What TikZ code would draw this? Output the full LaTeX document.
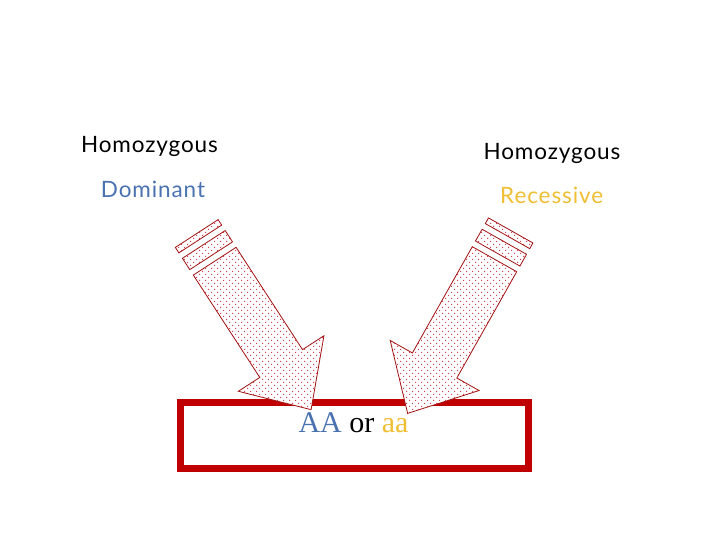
\documentclass[tikz,border=0pt]{standalone}
\usepackage{fontspec}
\setmainfont{Liberation Serif}
\newfontfamily\labfont[LetterSpace=4]{Lato}
\usetikzlibrary{patterns}
\pgfdeclarepatternformonly{sparsedots}{\pgfpoint{-1pt}{-1pt}}{\pgfpoint{7pt}{7pt}}{\pgfpoint{6pt}{6pt}}{%
  \pgfpathrectangle{\pgfpoint{1pt}{1pt}}{\pgfpoint{1.1pt}{1.1pt}}%
  \pgfpathrectangle{\pgfpoint{4pt}{4pt}}{\pgfpoint{1.1pt}{1.1pt}}%
  \pgfusepath{fill}}
\definecolor{boxred}{HTML}{C00000}
\definecolor{arrred}{HTML}{A01010}
\definecolor{dotred}{HTML}{D04050}
\definecolor{domblue}{HTML}{4A72B0}
\definecolor{recgold}{HTML}{F0BE32}
\tikzset{
  stripearrow/.style={draw=arrred, line width=0.8pt, line join=miter, fill=white,
    postaction={pattern=sparsedots, pattern color=dotred}},
  lab/.style={font=\labfont\fontsize{22.5}{26}\selectfont, anchor=base, inner sep=0pt},
  genebox/.style={draw=boxred, line width=7pt}
}
\newcommand{\stripedarrow}{%
  \path[stripearrow] (0,-25.5) -- (122,-25.5) -- (122,-51) -- (177,0) -- (122,51) -- (122,25.5) -- (0,25.5) -- cycle;
  \path[stripearrow] (-20,-25.5) rectangle (-6.5,25.5);
  \path[stripearrow] (-33,-25.5) rectangle (-26.5,25.5);
}
\begin{document}
\begin{tikzpicture}[x=1pt,y=1pt]
\useasboundingbox (0,0) rectangle (720,-540);
% box
\node[genebox, minimum width=348pt, minimum height=66pt, inner sep=0pt] (box) at (354.5,-435.5) {};
\node[anchor=base, inner sep=0pt, font=\fontsize{30}{36}\selectfont] (geno) at (353.5,-432.7)
  {\textcolor{domblue}{AA} or \textcolor{recgold}{aa}};
% labels
\node[lab] (homL) at (149.5,-153) {Homozygous};
\node[lab, text=domblue] (dom) at (153,-197.7) {Dominant};
\node[lab] (homR) at (552,-159.3) {Homozygous};
\node[lab, text=recgold] (rec) at (551.7,-203.3) {Recessive};
% arrows
\begin{scope}[shift={(214.7,-261.2)}, rotate=-57]
  \stripedarrow
\end{scope}
\begin{scope}[shift={(494.5,-259.2)}, rotate=-119.4]
  \stripedarrow
\end{scope}
\end{tikzpicture}
\end{document}
